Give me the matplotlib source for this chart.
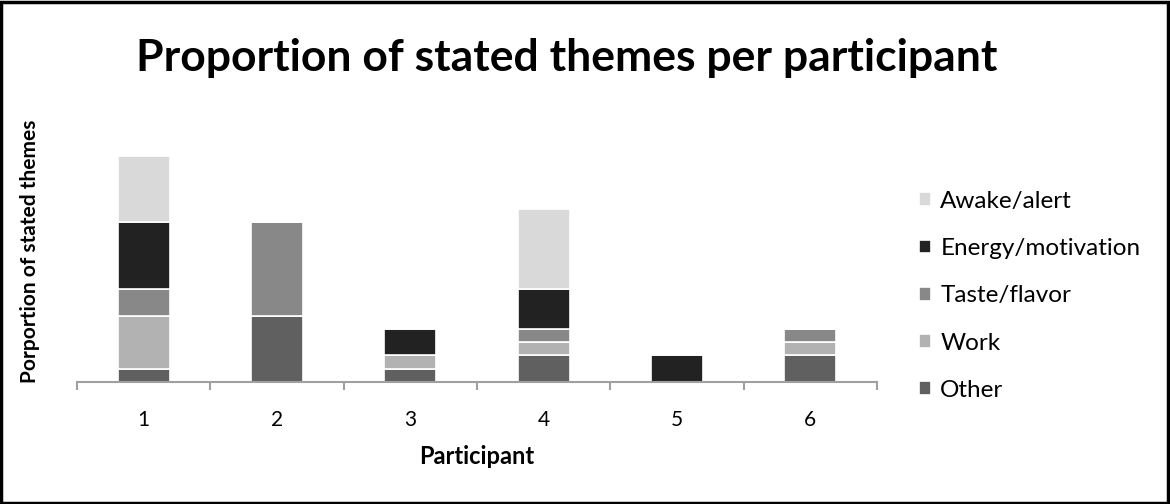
import numpy as np
import matplotlib.pyplot as plt
from matplotlib.patches import Rectangle

# Theme counts per participant
participants = ['1', '2', '3', '4', '5', '6']
themes = ['Other', 'Work', 'Taste/flavor', 'Energy/motivation', 'Awake/alert']
other = [1, 5, 1, 2, 0, 2]
work = [4, 0, 1, 1, 0, 1]
taste = [2, 7, 0, 1, 0, 1]
energy = [5, 0, 2, 3, 2, 0]
awake = [5, 0, 0, 6, 0, 0]
colors = ['#606060', '#b2b2b2', '#888888', '#222222', '#d9d9d9']

plt.rcParams['font.family'] = ['Lato', 'DejaVu Sans']

fig = plt.figure(figsize=(11.7, 5.04), dpi=100)
ax = fig.add_axes([77 / 1170, 122 / 504, 800 / 1170, 266 / 504])

x = np.arange(1, len(participants) + 1)
bottom = np.zeros(len(participants))
handles = []
for name, vals, c in zip(themes, [other, work, taste, energy, awake], colors):
    b = ax.bar(x, vals, 0.39, bottom=bottom, color=c, edgecolor='white',
               linewidth=1.2, label=name)
    handles.append(b)
    bottom += np.array(vals)

ax.set_xlim(0.5, 6.5)
ax.set_ylim(0, 20)
ax.set_yticks([])
for s in ['top', 'right', 'left']:
    ax.spines[s].set_visible(False)
ax.spines['bottom'].set_color('#a0a0a0')
ax.spines['bottom'].set_linewidth(1.5)

ax.set_xticks(x)
ax.set_xticklabels(participants, fontsize=15)
ax.tick_params(axis='x', length=0, pad=20)
ax.set_xticks(np.arange(0.5, 7, 1), minor=True)
ax.tick_params(axis='x', which='minor', length=6, width=1.5, color='#a0a0a0')

ax.set_xlabel('Participant', fontsize=17, fontweight='bold', labelpad=11)
ax.set_ylabel('Porportion of stated themes', fontsize=15, fontweight='bold')
ax.yaxis.set_label_coords(-37 / 800, 0.49)

fig.text(0.484, 0.885, 'Proportion of stated themes per participant',
         ha='center', va='center', fontsize=32, fontweight='bold')

leg = fig.legend(handles[::-1], themes[::-1], loc='upper left',
                 bbox_to_anchor=(897 / 1170, 1 - 169 / 504), frameon=False,
                 fontsize=17.5, handlelength=0.48, handleheight=0.48,
                 handletextpad=0.4, labelspacing=1.08)

fig.patches.append(Rectangle((0.001, 0.002), 0.997, 0.994, transform=fig.transFigure,
                             fill=False, edgecolor='black', linewidth=2.5))

fig.savefig('out.png', dpi=100)
